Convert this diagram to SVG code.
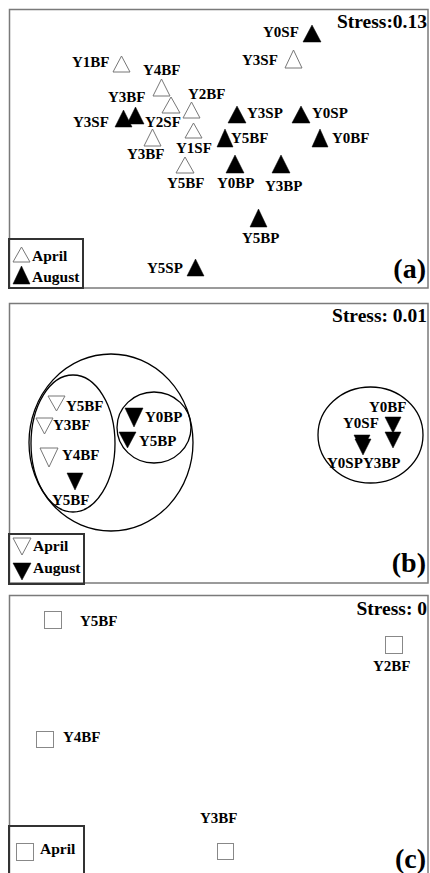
<svg xmlns="http://www.w3.org/2000/svg" width="430" height="873" viewBox="0 0 430 873">
<style>
text{font-family:"Liberation Serif","Times New Roman",serif;font-weight:bold;fill:#000}
.lab{font-size:15px}
.leg{font-size:15.5px}
.stress{font-size:19.5px}
.pl{font-size:28px}
.frame{fill:none;stroke:#7a7a7a;stroke-width:1.5}
.lbox{fill:none;stroke:#333;stroke-width:2}
.op{fill:#fff;stroke:#777;stroke-width:1}
.fi{fill:#000;stroke:#000;stroke-width:0.5}
.sq{fill:#fff;stroke:#888;stroke-width:1}
.cl{fill:none;stroke:#000;stroke-width:1.3}
</style>
<rect width="430" height="873" fill="#fff"/>

<!-- Panel (a) -->
<g id="panel-a">
<rect class="frame" x="9.5" y="9.5" width="418.5" height="278.5"/>
<text class="stress" x="427" y="28" text-anchor="end">Stress:0.13</text>
<text class="pl" x="426" y="278" text-anchor="end">(a)</text>
</g>
<g id="a-Y1BF"><polygon class="op" points="113,72 130,72 121.5,56"/><text class="lab" x="72" y="67">Y1BF</text></g>
<g id="a-Y4BF"><polygon class="op" points="153,96 170,96 161.5,79"/><text class="lab" x="143" y="75">Y4BF</text></g>
<g id="a-Y2SF"><polygon class="op" points="162,113 180,113 171,97"/><text class="lab" x="145" y="127">Y2SF</text></g>
<g id="a-Y2BF"><polygon class="op" points="183,118 200,118 191.5,102"/><text class="lab" x="188" y="99">Y2BF</text></g>
<g id="a-Y1SF"><polygon class="op" points="185,138 202,138 193.5,123"/><text class="lab" x="176" y="153">Y1SF</text></g>
<g id="a-Y3SF-aug"><polygon class="fi" points="115,127 132,127 123.5,110"/><text class="lab" x="73" y="127">Y3SF</text></g>
<g id="a-Y3BF-aug"><polygon class="fi" points="127,124 144,124 135.5,107"/><text class="lab" x="108" y="102">Y3BF</text></g>
<g id="a-Y3BF"><polygon class="op" points="144,146 161,146 152.5,129"/><text class="lab" x="127" y="159">Y3BF</text></g>
<g id="a-Y5BF"><polygon class="op" points="176,173 194,173 185,157"/><text class="lab" x="167" y="188">Y5BF</text></g>
<g id="a-Y0SF"><polygon class="fi" points="303,42 321,42 312,25"/><text class="lab" x="263" y="37">Y0SF</text></g>
<g id="a-Y3SF"><polygon class="op" points="285,68 302,68 293.5,50"/><text class="lab" x="242" y="65">Y3SF</text></g>
<g id="a-Y3SP"><polygon class="fi" points="228,123 246,123 237,106"/><text class="lab" x="247" y="118">Y3SP</text></g>
<g id="a-Y0SP"><polygon class="fi" points="292,123 310,123 301,106"/><text class="lab" x="312" y="118">Y0SP</text></g>
<g id="a-Y5BF-aug"><polygon class="fi" points="217,147 233,147 225,129"/><text class="lab" x="231" y="143">Y5BF</text></g>
<g id="a-Y0BF"><polygon class="fi" points="312,147 328,147 320,129"/><text class="lab" x="332" y="143">Y0BF</text></g>
<g id="a-Y0BP"><polygon class="fi" points="226,173 244,173 235,155"/><text class="lab" x="217" y="188">Y0BP</text></g>
<g id="a-Y3BP"><polygon class="fi" points="272,173 290,173 281,155"/><text class="lab" x="265" y="191">Y3BP</text></g>
<g id="a-Y5BP"><polygon class="fi" points="250,227 267,227 258.5,209"/><text class="lab" x="242" y="243">Y5BP</text></g>
<g id="a-Y5SP"><polygon class="fi" points="187,276 204,276 195.5,259"/><text class="lab" x="147" y="273">Y5SP</text></g>
<g id="a-legend">
<rect class="lbox" x="9" y="239" width="74" height="49"/>
<polygon class="op" points="13,262 30,262 21.5,247"/><text class="leg" x="32" y="261">April</text>
<polygon class="fi" points="13,284 30,284 21.5,266"/><text class="leg" x="32" y="282">August</text>
</g>

<!-- Panel (b) -->
<g id="panel-b">
<rect class="frame" x="9.5" y="303.5" width="418.5" height="279.5"/>
<text class="stress" x="427" y="322" text-anchor="end">Stress: 0.01</text>
<text class="pl" x="426" y="572" text-anchor="end">(b)</text>
</g>
<g id="clusters">
<ellipse class="cl" cx="111" cy="442.5" rx="82" ry="88.5"/>
<ellipse class="cl" cx="73" cy="443.5" rx="42" ry="68.5"/>
<ellipse class="cl" cx="154" cy="427.5" rx="37" ry="35.5"/>
<ellipse class="cl" cx="370.5" cy="435" rx="52.5" ry="48"/>
</g>
<g id="b-Y5BF"><polygon class="op" points="48,396 65,396 56.5,411"/><text class="lab" x="66" y="411">Y5BF</text></g>
<g id="b-Y3BF"><polygon class="op" points="36,418 53,418 44.5,434"/><text class="lab" x="53" y="430">Y3BF</text></g>
<g id="b-Y4BF"><polygon class="op" points="40,448 58,448 49,467"/><text class="lab" x="62" y="460">Y4BF</text></g>
<g id="b-Y5BF-aug"><polygon class="fi" points="67,473 83,473 75,490"/><text class="lab" x="52" y="505">Y5BF</text></g>
<g id="b-Y0BP"><polygon class="fi" points="125,408 143,408 134,427"/><text class="lab" x="145" y="422">Y0BP</text></g>
<g id="b-Y5BP"><polygon class="fi" points="119,432 136,432 127.5,448"/><text class="lab" x="139" y="446">Y5BP</text></g>
<g id="b-Y0BF"><polygon class="fi" points="385,417 401,417 393,433"/><text class="lab" x="369" y="412">Y0BF</text></g>
<g id="b-Y3BP"><polygon class="fi" points="385,432 401,432 393,448"/><text class="lab" x="363" y="468">Y3BP</text></g>
<g id="b-Y0SF"><polygon class="fi" points="354,435 370,435 362,451"/><text class="lab" x="343" y="428">Y0SF</text></g>
<g id="b-Y0SP"><polygon class="fi" points="355,439 371,439 363,455"/><text class="lab" x="327" y="468">Y0SP</text></g>
<g id="b-legend">
<rect class="lbox" x="9" y="534" width="75" height="50"/>
<polygon class="op" points="13,538 31,538 22,555"/><text class="leg" x="33" y="551">April</text>
<polygon class="fi" points="13,563 31,563 22,580"/><text class="leg" x="33" y="573">August</text>
</g>

<!-- Panel (c) -->
<g id="panel-c">
<rect class="frame" x="9.5" y="595.5" width="418.5" height="290"/>
<text class="stress" x="427" y="615" text-anchor="end">Stress: 0</text>
<text class="pl" x="426" y="868" text-anchor="end">(c)</text>
</g>
<g id="c-Y5BF"><rect class="sq" x="44.5" y="611.5" width="17" height="17"/><text class="lab" x="80" y="626">Y5BF</text></g>
<g id="c-Y2BF"><rect class="sq" x="385.5" y="636.5" width="17" height="17"/><text class="lab" x="373" y="671">Y2BF</text></g>
<g id="c-Y4BF"><rect class="sq" x="36.5" y="731.5" width="17" height="16"/><text class="lab" x="63" y="742">Y4BF</text></g>
<g id="c-Y3BF"><rect class="sq" x="217.5" y="843.5" width="16" height="16"/><text class="lab" x="200" y="823">Y3BF</text></g>
<g id="c-legend">
<rect class="lbox" x="9" y="826" width="75" height="60"/>
<rect class="sq" x="16.5" y="843.5" width="17" height="17"/><text class="leg" x="40" y="854">April</text>
</g>
</svg>
